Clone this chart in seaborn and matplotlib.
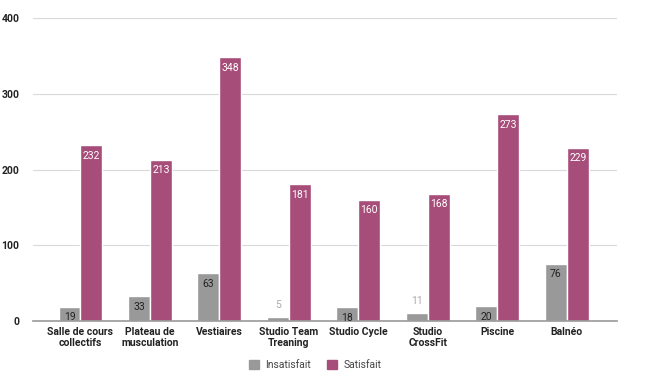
import pandas as pd
import matplotlib
matplotlib.use('Agg')
import matplotlib.pyplot as plt
import seaborn as sns
from matplotlib.patches import Patch

categories = ['Salle de cours\ncollectifs', 'Plateau de\nmusculation', 'Vestiaires',
              'Studio Team\nTreaning', 'Studio Cycle', 'Studio\nCrossFit', 'Piscine', 'Balnéo']
insatisfait = [19, 33, 63, 5, 18, 11, 20, 76]
satisfait = [232, 213, 348, 181, 160, 168, 273, 229]

df = pd.DataFrame({
    'categorie': categories * 2,
    'valeur': insatisfait + satisfait,
    'avis': ['Insatisfait'] * len(categories) + ['Satisfait'] * len(categories),
})

sns.set_style('white')
plt.rcParams['font.family'] = ['Roboto', 'DejaVu Sans']

fig = plt.figure(figsize=(6.5, 3.76), dpi=100)
ax = fig.add_axes([0.051, 0.146, 0.898, 0.806])
sns.barplot(data=df, x='categorie', y='valeur', hue='avis',
            palette={'Insatisfait': '#999999', 'Satisfait': '#a64d79'},
            width=0.63, gap=0, saturation=1, ax=ax, legend=False)

ax.set_ylim(0, 400)
ax.set_xlim(-0.68, 7.72)
ax.set_yticks([0, 100, 200, 300, 400])
ax.yaxis.grid(True, color='#d9d9d9', linewidth=0.8)
ax.set_axisbelow(True)
for s in ['top', 'right', 'left']:
    ax.spines[s].set_visible(False)
ax.spines['bottom'].set_color('#999999')
ax.spines['bottom'].set_linewidth(1.2)
ax.tick_params(axis='both', length=0, labelsize=7.5)
ax.tick_params(axis='x', pad=4)
ax.tick_params(axis='y', pad=10)
for lab in ax.get_xticklabels() + ax.get_yticklabels():
    lab.set_fontweight('bold')
    lab.set_color('#222222')
ax.set_xlabel('')
ax.set_ylabel('')

# étiquettes de valeurs
for cont, col in zip(ax.containers, ['#222222', 'white']):
    for bar in cont:
        h = bar.get_height()
        x = bar.get_x() + bar.get_width() / 2
        if h < 15:
            ax.text(x, h + 16, f'{int(h)}', ha='center', va='center', fontsize=7.5, color='#aaaaaa')
        else:
            ax.text(x, h - 14, f'{int(h)}', ha='center', va='center', fontsize=7.5, color=col)

handles = [Patch(color='#999999', label='Insatisfait'), Patch(color='#a64d79', label='Satisfait')]
fig.legend(handles=handles, loc='center', bbox_to_anchor=(0.485, 0.03), ncol=2, frameon=False,
           fontsize=7.5, handlelength=1.0, handleheight=1.0, columnspacing=1.5, handletextpad=0.6,
           labelcolor='#444444')

fig.savefig('out.png', dpi=100)
